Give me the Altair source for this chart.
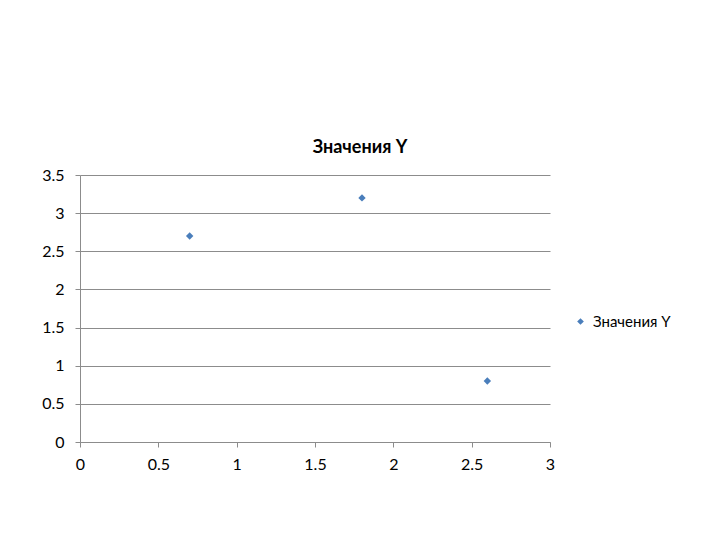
import altair as alt
import pandas as pd

xs = [0.7, 1.8, 2.6]
ys = [2.7, 3.2, 0.8]
series = ["Значения Y"] * 3

df = pd.DataFrame({"x": xs, "y": ys, "s": series})

font = "Lato"
grid = "#8c8c8c"

chart = alt.Chart(df).mark_point(shape="diamond", filled=True, size=55, opacity=1).encode(
    x=alt.X("x:Q", scale=alt.Scale(domain=[0, 3], nice=False),
            axis=alt.Axis(values=[0, 0.5, 1, 1.5, 2, 2.5, 3], title=None, grid=False,
                          tickSize=5, labelPadding=9, labelFontSize=16, labelFont=font,
                          labelColor="#000", domainColor=grid, tickColor=grid,
                          labelFlush=False, format="~g")),
    y=alt.Y("y:Q", scale=alt.Scale(domain=[0, 3.5], nice=False),
            axis=alt.Axis(values=[0, 0.5, 1, 1.5, 2, 2.5, 3, 3.5], title=None, grid=True,
                          gridColor=grid, tickSize=5, labelPadding=11, labelFontSize=16,
                          labelFont=font, labelColor="#000", domainColor=grid,
                          tickColor=grid, format="~g")),
    color=alt.Color("s:N", scale=alt.Scale(range=["#4a7ebb"]),
                    legend=alt.Legend(title=None, orient="none", legendX=493, legendY=139,
                                      symbolType="diamond", symbolSize=45, labelOffset=5,
                                      labelFont=font, labelFontSize=15, labelColor="#000",
                                      symbolStrokeWidth=0)),
).properties(
    width=470, height=267,
    title=alt.TitleParams("Значения Y", font=font, fontSize=18, fontWeight="bold",
                          color="#000", anchor="middle", dx=45, offset=10),
    autosize=alt.AutoSizeParams(type="none"),
    padding={"left": 72, "top": 167, "right": 160, "bottom": 80},
).configure_view(stroke=None)

chart.save("out.html", embed_options={"renderer": "svg", "actions": False})
